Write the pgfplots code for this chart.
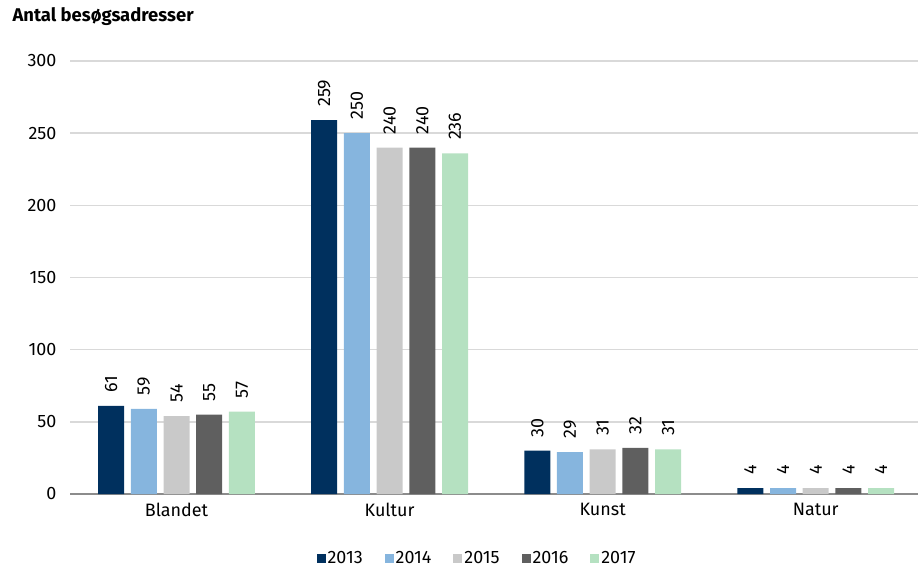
\documentclass[border=0pt]{standalone}
\usepackage{fontspec}
\setmainfont{Fira Sans}
\usepackage{pgfplots}
\pgfplotsset{compat=1.18}

\definecolor{c13}{HTML}{00305E}
\definecolor{c14}{HTML}{86B5DE}
\definecolor{c15}{HTML}{C9C9C9}
\definecolor{c16}{HTML}{5F5F5F}
\definecolor{c17}{HTML}{B5E1C1}
\definecolor{gridc}{HTML}{D9D9D9}
\definecolor{axisc}{HTML}{8C8C8C}

\begin{document}
\begin{tikzpicture}[x=1bp,y=1bp]
\begin{axis}[
    at={(70bp,77bp)}, anchor=south west,
    scale only axis,
    width=848bp, height=433bp,
    ybar=6.7bp, bar width=26bp,
    xmin=-0.5, xmax=3.48,
    ymin=0, ymax=300,
    ytick={0,50,...,300},
    xtick=data,
    xticklabels={Blandet,Kultur,Kunst,Natur},
    major tick length=0pt,
    ymajorgrids,
    grid style={gridc, line width=1.4bp},
    axis x line*=bottom,
    axis y line*=left,
    y axis line style={draw=none},
    x axis line style={axisc, line width=2bp, -},
    tick label style={font=\fontsize{18}{20}\selectfont},
    /pgf/number format/assume math mode=true,
    yticklabel style={xshift=-10bp},
    xticklabel style={yshift=-6bp},
    nodes near coords,
    every node near coord/.append style={rotate=90, anchor=west, font=\fontsize{18}{20}\selectfont, black, xshift=10bp},
    clip=false,
    legend columns=-1,
    legend style={draw=none, at={(axis description cs:0.48,0)}, anchor=center, yshift=-64bp,
        font=\fontsize{18}{20}\selectfont, /tikz/every even column/.append style={column sep=20bp}},
    legend image code/.code={\fill[#1] (0bp,-4.5bp) rectangle (9bp,4.5bp);},
]
\addplot[fill=c13, draw=none] coordinates {(0,61) (1,259) (2,30) (3,4)};
\addplot[fill=c14, draw=none] coordinates {(0,59) (1,250) (2,29) (3,4)};
\addplot[fill=c15, draw=none] coordinates {(0,54) (1,240) (2,31) (3,4)};
\addplot[fill=c16, draw=none] coordinates {(0,55) (1,240) (2,32) (3,4)};
\addplot[fill=c17, draw=none] coordinates {(0,57) (1,236) (2,31) (3,4)};
\legend{2013,2014,2015,2016,2017}
\end{axis}
\node[anchor=west, font=\bfseries\fontsize{18.5}{20}\selectfont] at (9bp,554bp) {Antal besøgsadresser};
\pgfresetboundingbox
\useasboundingbox (0,0) rectangle (918bp,571bp);
\end{tikzpicture}
\end{document}
